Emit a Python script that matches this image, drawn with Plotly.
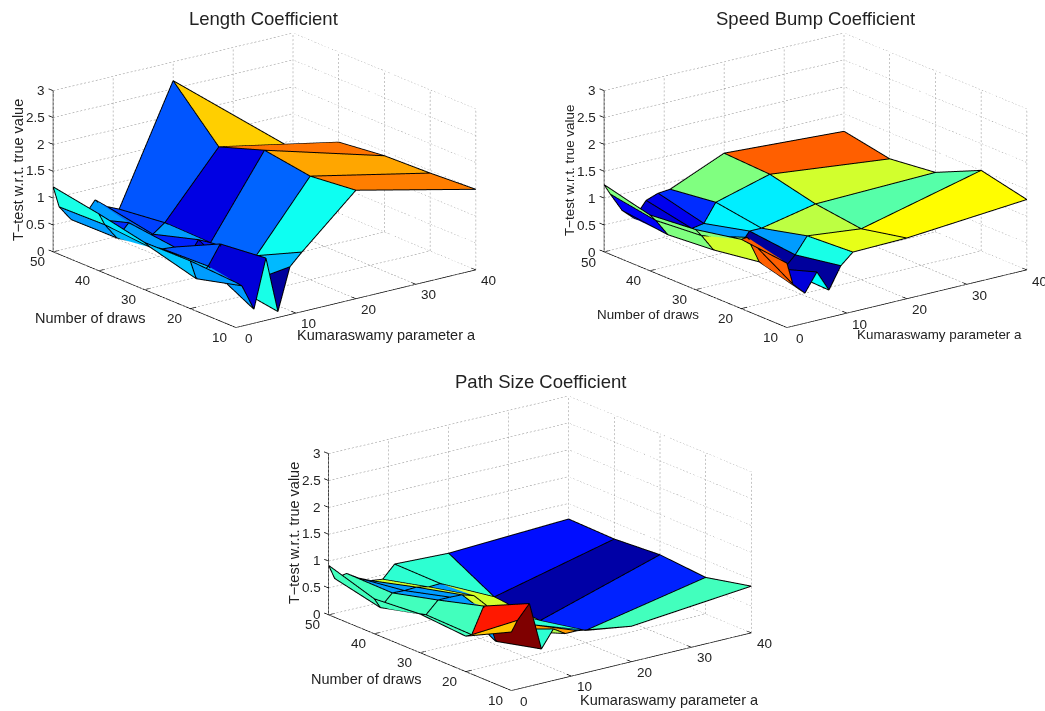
import math
import plotly.graph_objects as go

X_VALUES = [0, 1, 3, 5, 7, 9, 11, 20, 40]
Y_VALUES = [50, 40, 30, 20, 10]
X_TICKS = [0, 10, 20, 30, 40]
Y_TICKS = [10, 20, 30, 40, 50]
Z_TICKS = [0, 0.5, 1, 1.5, 2, 2.5, 3]
Z_TICK_LABELS = ["0", "0.5", "1", "1.5", "2", "2.5", "3"]

LENGTH_Z = [
    [1.21, 0.81, 0.52, 0.50, 0.78, 0.60, 0.50, 2.65, 0.84],
    [1.06, 0.83, 0.53, 0.76, 0.44, 0.44, 0.60, 1.77, 1.32],
    [0.88, 0.76, 0.68, 0.66, 0.37, 0.69, 0.58, 2.06, 1.42],
    [0.89, 0.53, 0.71, 1.07, 0.24, 0.22, 0.69, 1.93, 1.45],
    [0.84, 0.75, 0.26, 1.16, 0.11, 0.89, 1.11, 2.02, 1.50],
]
LENGTH_C = [
    [0.40, 0.28, 0.17, 0.28, 0.225, 0.19, 0.21, 0.67],
    [0.35, 0.31, 0.28, 0.28, 0.16, 0.28, 0.10, 0.76],
    [0.32, 0.31, 0.21, 0.25, 0.09, 0.15, 0.225, 0.71],
    [0.28, 0.28, 0.09, 0.40, 0.03, 0.31, 0.39, 0.75],
]
SPEED_Z = [
    [1.25, 1.05, 0.69, 0.49, 0.77, 0.85, 0.87, 1.30, 1.17],
    [1.04, 0.91, 0.59, 0.53, 0.60, 0.64, 0.98, 1.26, 1.01],
    [1.12, 0.98, 0.66, 0.72, 0.57, 0.85, 0.85, 1.06, 1.11],
    [1.29, 1.30, 0.79, 0.62, 0.54, 0.76, 1.06, 0.95, 1.50],
    [1.20, 0.78, 0.56, 0.90, 0.51, 0.91, 1.11, 1.13, 1.31],
]
SPEED_C = [
    [0.50, 0.12, 0.03, 0.09, 0.11, 0.17, 0.50, 0.78],
    [0.50, 0.50, 0.56, 0.04, 0.28, 0.365, 0.36, 0.58],
    [0.50, 0.58, 0.58, 0.84, 0.03, 0.28, 0.56, 0.46],
    [0.78, 0.78, 0.09, 0.38, 0.03, 0.40, 0.60, 0.625],
]
PATH_Z = [
    [0.92, 0.65, 0.69, 0.55, 0.45, 0.42, 0.65, 0.61, 0.71],
    [0.65, 0.46, 0.68, 0.67, 0.68, 0.63, 0.64, 0.15, 0.69],
    [0.72, 0.68, 0.90, 0.90, 0.89, 0.82, 0.58, 0.06, 0.75],
    [0.66, 0.66, 1.14, 0.43, 0.60, 0.51, 0.58, 0.23, 0.68],
    [1.09, 1.28, 1.54, 0.64, 0.96, 0.82, 0.82, 0.66, 0.87],
]
PATH_C = [
    [0.44, 0.44, 0.28, 0.28, 0.58, 0.42, 0.42, 0.14],
    [0.44, 0.44, 0.28, 0.28, 0.58, 0.28, 0.58, 0.04],
    [0.44, 0.44, 0.28, 0.28, 0.58, 0.58, 0.42, 0.16],
    [0.68, 0.85, 1.00, 0.42, 0.55, 0.72, 0.28, 0.44],
]

JET = [[0, "#00007f"], [0.125, "#0000ff"], [0.375, "#00ffff"], [0.625, "#ffff00"],
       [0.875, "#ff0000"], [1, "#7f0000"]]
FONT = "Liberation Sans, Arial, sans-serif"
W, H = 1045, 711
THETA, PHI = math.radians(37.3), math.radians(18.4)
R = 2.0
XMIN, YMIN, YMAX = -1, 9, 51
SCALE = 1.806
AR = dict(x=SCALE * 41 / 40, y=SCALE * 42 / 40, z=SCALE * 0.563)
# small lift of the surface edges towards the camera, so they are not buried in the faces
LIFT = (-math.sin(THETA) * math.cos(PHI) * 0.4, -math.cos(THETA) * math.cos(PHI) * 0.4, math.sin(PHI) * 0.053)

PLOTS = [
    dict(name="scene", title="Length Coefficient", z=LENGTH_Z, c=LENGTH_C,
         box=(1, 522, 13.7, 347.7), t=(263, 18), zt=(18, 170), nd=(90, 318), ka=(386, 335), fs=14.5),
    dict(name="scene2", title="Speed Bump Coefficient", z=SPEED_Z, c=SPEED_C,
         box=(580, 1045, 14.2, 348.2), t=(815, 18), zt=(570, 171), nd=(648, 315), ka=(939, 334), fs=13.4),
    dict(name="scene3", title="Path Size Coefficient", z=PATH_Z, c=PATH_C,
         box=(257, 817, 376.7, 710.7), t=(540, 381), zt=(294, 533), nd=(366, 679), ka=(669, 700), fs=14.5),
]

fig = go.Figure()
annotations = []


def add_lines(scene, segs, color, width):
    xs, ys, zs = [], [], []
    for a, b in segs:
        xs += [a[0], b[0], None]
        ys += [a[1], b[1], None]
        zs += [a[2], b[2], None]
    fig.add_trace(go.Scatter3d(x=xs, y=ys, z=zs, mode="lines", scene=scene, hoverinfo="skip",
                               showlegend=False, line=dict(color=color, width=width)))


def dotted(a, b, n):
    out = []
    for i in range(n):
        s, e = i / n, (i + 0.5) / n
        out.append((tuple(a[k] + (b[k] - a[k]) * s for k in range(3)),
                    tuple(a[k] + (b[k] - a[k]) * e for k in range(3))))
    return out


for p in PLOTS:
    sc = p["name"]
    nr, nc = len(Y_VALUES), len(X_VALUES)
    vx, vy, vz = [], [], []
    for r in range(nr):
        for c in range(nc):
            vx.append(X_VALUES[c]); vy.append(Y_VALUES[r]); vz.append(p["z"][r][c])
    ii, jj, kk, cc = [], [], [], []
    for r in range(nr - 1):
        for c in range(nc - 1):
            a = r * nc + c
            b, d, e = a + 1, a + nc, a + nc + 1
            ii += [a, b]; jj += [b, e]; kk += [d, d]
            cc += [p["c"][r][c]] * 2
    fig.add_trace(go.Mesh3d(x=vx, y=vy, z=vz, i=ii, j=jj, k=kk, intensity=cc, intensitymode="cell",
                            colorscale=JET, cmin=0, cmax=1, showscale=False, flatshading=True,
                            scene=sc, hoverinfo="skip",
                            lighting=dict(ambient=1, diffuse=0, specular=0, roughness=1, fresnel=0)))

    def lifted(xv, yv, zv):
        return (xv + LIFT[0], yv + LIFT[1], zv + LIFT[2])

    edges = []
    for r in range(nr):
        for c in range(nc):
            pt = lifted(X_VALUES[c], Y_VALUES[r], p["z"][r][c])
            if c < nc - 1:
                edges.append((pt, lifted(X_VALUES[c + 1], Y_VALUES[r], p["z"][r][c + 1])))
            if r < nr - 1:
                edges.append((pt, lifted(X_VALUES[c], Y_VALUES[r + 1], p["z"][r + 1][c])))
    add_lines(sc, edges, "black", 2)

    x0, x1, y0, y1, z0, z1 = X_TICKS[0], X_TICKS[-1], Y_TICKS[0], Y_TICKS[-1], Z_TICKS[0], Z_TICKS[-1]
    grid = []
    for tx in X_TICKS:
        grid += dotted((tx, y0, z0), (tx, y1, z0), 55)
        grid += dotted((tx, y1, z0), (tx, y1, z1), 40)
    for ty in Y_TICKS:
        grid += dotted((x0, ty, z0), (x1, ty, z0), 62)
        grid += dotted((x1, ty, z0), (x1, ty, z1), 40)
    for tz in Z_TICKS:
        grid += dotted((x0, y1, tz), (x1, y1, tz), 62)
        grid += dotted((x1, y0, tz), (x1, y1, tz), 55)
    add_lines(sc, grid, "#8c8c8c", 1)

    ax = [((x0, y0, z0), (x1, y0, z0)), ((x0, y0, z0), (x0, y1, z0)), ((x0, y1, z0), (x0, y1, z1))]
    ax += [((tx, y0, z0), (tx, y0 + 1, z0)) for tx in X_TICKS]
    ax += [((x0, ty, z0), (x0 + 1, ty, z0)) for ty in Y_TICKS]
    ax += [((x0, y1, tz), (x0, YMAX, tz)) for tz in Z_TICKS]
    add_lines(sc, ax, "black", 1.5)

    scene_ann = []
    tf = dict(family=FONT, size=13.5, color="#222222")
    for tx in X_TICKS:
        scene_ann.append(dict(x=tx, y=y0, z=z0, text=str(tx), showarrow=False, xshift=13, yshift=-11, font=tf))
    for ty in Y_TICKS:
        scene_ann.append(dict(x=x0, y=ty, z=z0, text=str(ty), showarrow=False, xshift=-16, yshift=-10, font=tf))
    for tz, tl in zip(Z_TICKS, Z_TICK_LABELS):
        scene_ann.append(dict(x=x0, y=y1, z=tz, text=tl, showarrow=False, xshift=-6, xanchor="right", font=tf))

    l, r_, t, b = p["box"]
    fig.update_layout({sc: dict(
        domain=dict(x=[l / W, r_ / W], y=[1 - b / H, 1 - t / H]),
        xaxis=dict(range=[XMIN, x1], visible=False),
        yaxis=dict(range=[YMIN, YMAX], visible=False),
        zaxis=dict(range=[z0, z1], visible=False),
        aspectmode="manual", aspectratio=AR,
        camera=dict(projection=dict(type="orthographic"), up=dict(x=0, y=0, z=1), center=dict(x=0, y=0, z=0),
                    eye=dict(x=-R * math.sin(THETA) * math.cos(PHI), y=-R * math.cos(THETA) * math.cos(PHI),
                             z=R * math.sin(PHI))),
        annotations=scene_ann)})

    lab = dict(family=FONT, size=p["fs"], color="#222222")
    annotations.append(dict(x=p["t"][0], y=p["t"][1], text=p["title"], font=dict(family=FONT, size=18.5, color="#222222")))
    annotations.append(dict(x=p["zt"][0], y=p["zt"][1], text="T\u2212test w.r.t. true value", textangle=-90, font=lab))
    annotations.append(dict(x=p["nd"][0], y=p["nd"][1], text="Number of draws", font=lab))
    annotations.append(dict(x=p["ka"][0], y=p["ka"][1], text="Kumaraswamy parameter a", font=lab))

for a in annotations:
    a.update(xref="paper", yref="paper", showarrow=False, xanchor="center", yanchor="middle",
             x=a["x"] / W, y=1 - a["y"] / H)

fig.update_layout(width=W, height=H, margin=dict(l=0, r=0, t=0, b=0), autosize=False,
                  paper_bgcolor="white", plot_bgcolor="white", showlegend=False, annotations=annotations)
fig.write_html("out.html", config=dict(displayModeBar=False),
               post_script="document.body.style.margin='0';document.documentElement.style.overflow='hidden';")
